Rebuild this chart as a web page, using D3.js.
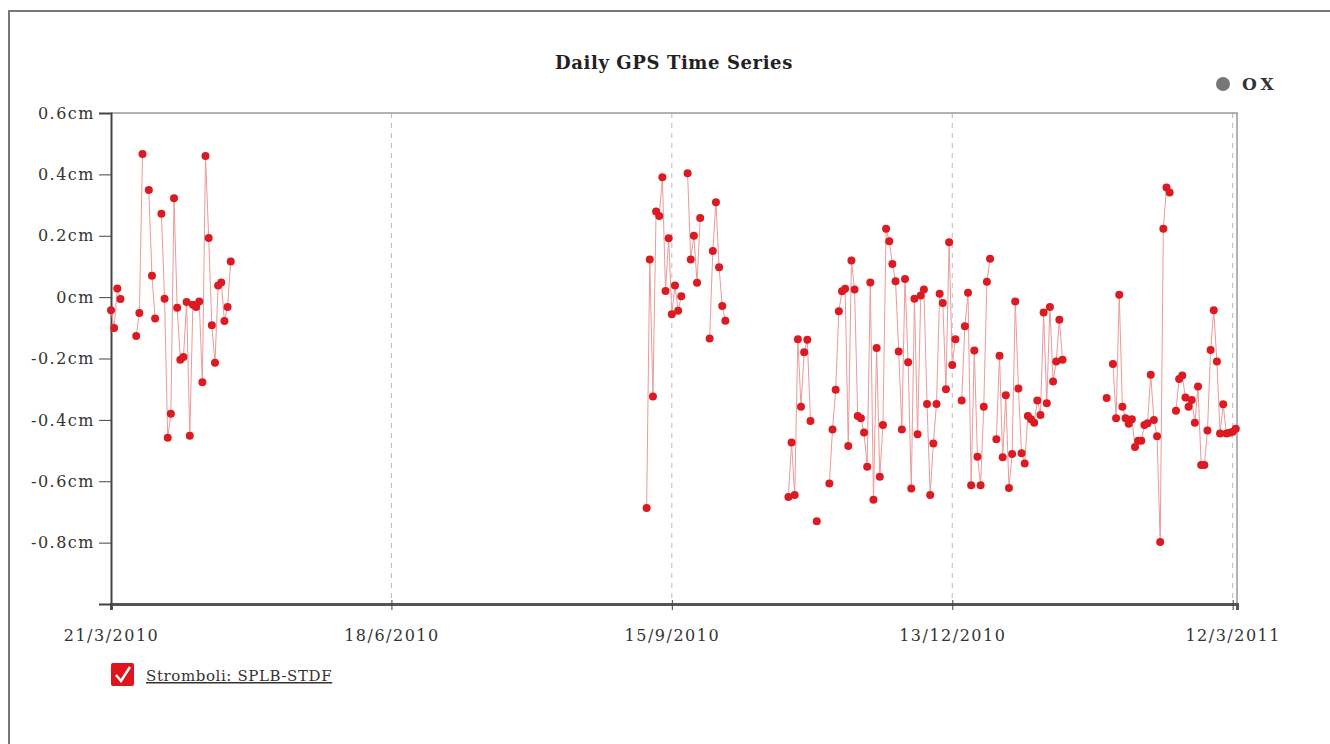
<!DOCTYPE html>
<html>
<head>
<meta charset="utf-8">
<script src="https://cdn.jsdelivr.net/npm/d3@7"></script>
<style>
  body { margin: 0; background: #fff; }
  svg text { font-family: "DejaVu Serif", "Liberation Serif", serif; fill: #333; }
</style>
</head>
<body>
<svg id="chart" width="1330" height="744"></svg>
<script>
// Daily GPS displacement, Stromboli SPLB-STDF (cm)
var dates = [
  "2010-03-21","2010-03-22","2010-03-23","2010-03-24",
  "2010-03-29","2010-03-30","2010-03-31",
  "2010-04-02","2010-04-03","2010-04-04",
  "2010-04-06","2010-04-07","2010-04-08","2010-04-09","2010-04-10","2010-04-11","2010-04-12","2010-04-13",
  "2010-04-14","2010-04-15","2010-04-16","2010-04-17","2010-04-18","2010-04-19","2010-04-20","2010-04-21",
  "2010-04-22","2010-04-23","2010-04-24","2010-04-25","2010-04-26","2010-04-27","2010-04-28",
  "2010-09-07","2010-09-08","2010-09-09","2010-09-10","2010-09-11","2010-09-12","2010-09-13","2010-09-14",
  "2010-09-15","2010-09-16","2010-09-17","2010-09-18",
  "2010-09-20","2010-09-21","2010-09-22","2010-09-23","2010-09-24",
  "2010-09-27","2010-09-28","2010-09-29","2010-09-30","2010-10-01","2010-10-02",
  "2010-10-22","2010-10-23","2010-10-24","2010-10-25","2010-10-26","2010-10-27","2010-10-28","2010-10-29",
  "2010-10-31",
  "2010-11-04","2010-11-05","2010-11-06","2010-11-07","2010-11-08","2010-11-09","2010-11-10","2010-11-11",
  "2010-11-12","2010-11-13","2010-11-14","2010-11-15","2010-11-16","2010-11-17","2010-11-18","2010-11-19",
  "2010-11-20","2010-11-21","2010-11-22","2010-11-23","2010-11-24","2010-11-25","2010-11-26","2010-11-27",
  "2010-11-28","2010-11-29","2010-11-30","2010-12-01","2010-12-02","2010-12-03","2010-12-04","2010-12-05",
  "2010-12-06","2010-12-07","2010-12-08","2010-12-09","2010-12-10","2010-12-11","2010-12-12","2010-12-13",
  "2010-12-14",
  "2010-12-16","2010-12-17","2010-12-18","2010-12-19","2010-12-20","2010-12-21","2010-12-22","2010-12-23",
  "2010-12-24","2010-12-25",
  "2010-12-27","2010-12-28","2010-12-29","2010-12-30","2010-12-31","2011-01-01","2011-01-02","2011-01-03",
  "2011-01-04","2011-01-05","2011-01-06","2011-01-07","2011-01-08","2011-01-09","2011-01-10","2011-01-11",
  "2011-01-12","2011-01-13","2011-01-14","2011-01-15","2011-01-16","2011-01-17",
  "2011-01-31",
  "2011-02-02","2011-02-03","2011-02-04","2011-02-05","2011-02-06","2011-02-07","2011-02-08","2011-02-09",
  "2011-02-10","2011-02-11","2011-02-12","2011-02-13","2011-02-14","2011-02-15","2011-02-16","2011-02-17",
  "2011-02-18","2011-02-19","2011-02-20",
  "2011-02-22","2011-02-23","2011-02-24","2011-02-25","2011-02-26","2011-02-27","2011-02-28","2011-03-01",
  "2011-03-02","2011-03-03","2011-03-04","2011-03-05","2011-03-06","2011-03-07","2011-03-08","2011-03-09",
  "2011-03-10","2011-03-11","2011-03-12","2011-03-13"
];

var values = [
  -0.043,-0.101,0.028,-0.006,
  -0.127,-0.052,0.466,
  0.349,0.070,-0.070,
  0.272,-0.005,-0.458,-0.380,0.322,-0.035,-0.204,-0.195,
  -0.016,-0.452,-0.025,-0.032,-0.014,-0.277,0.460,0.193,
  -0.092,-0.214,0.038,0.048,-0.078,-0.032,0.116,
  -0.687,0.123,-0.324,0.279,0.264,0.391,0.020,0.192,
  -0.056,0.038,-0.044,0.003,
  0.404,0.123,0.200,0.047,0.258,
  -0.135,0.150,0.309,0.097,-0.029,-0.077,
  -0.651,-0.474,-0.645,-0.137,-0.357,-0.180,-0.139,-0.404,
  -0.730,
  -0.607,-0.431,-0.302,-0.046,0.019,0.027,-0.485,0.119,
  0.025,-0.387,-0.395,-0.441,-0.553,0.048,-0.660,-0.166,
  -0.585,-0.417,0.223,0.182,0.108,0.052,-0.177,-0.431,
  0.059,-0.212,-0.624,-0.005,-0.447,0.005,0.025,-0.348,
  -0.645,-0.477,-0.348,0.011,-0.019,-0.300,0.179,-0.221,
  -0.137,
  -0.337,-0.095,0.014,-0.613,-0.174,-0.520,-0.613,-0.357,
  0.050,0.125,
  -0.463,-0.191,-0.522,-0.320,-0.622,-0.511,-0.014,-0.298,
  -0.509,-0.542,-0.387,-0.398,-0.409,-0.337,-0.384,-0.050,
  -0.346,-0.032,-0.275,-0.210,-0.074,-0.204,
  -0.329,
  -0.218,-0.395,0.008,-0.357,-0.395,-0.413,-0.398,-0.488,
  -0.468,-0.468,-0.417,-0.411,-0.253,-0.400,-0.453,-0.798,
  0.223,0.357,0.341,
  -0.370,-0.267,-0.255,-0.327,-0.357,-0.335,-0.409,-0.291,
  -0.547,-0.547,-0.435,-0.172,-0.043,-0.210,-0.444,-0.349,
  -0.444,-0.442,-0.439,-0.429
];

var xTickLabels = ["21/3/2010", "18/6/2010", "15/9/2010", "13/12/2010", "12/3/2011"];
var yTicks = [0.6, 0.4, 0.2, 0, -0.2, -0.4, -0.6, -0.8];
var seriesName = "Stromboli: SPLB-STDF";

var parseDay = d3.timeParse("%Y-%m-%d");
var parseTick = d3.timeParse("%d/%m/%Y");

var data = dates.map(function(d, i) { return { date: parseDay(d), value: values[i] }; });

// split into runs of consecutive days (missing days break the line)
var runs = [];
data.forEach(function(d, i) {
  if (i === 0 || d3.timeDay.count(data[i - 1].date, d.date) > 1) runs.push([]);
  runs[runs.length - 1].push(d);
});

var margin = { top: 113, right: 93, bottom: 140, left: 111 };
var width = 1330 - margin.left - margin.right;
var height = 744 - margin.top - margin.bottom;

var svg = d3.select("#chart");

// outer frame
svg.append("path")
  .attr("d", "M9,744V11H1330")
  .attr("fill", "none")
  .attr("stroke", "#777")
  .attr("stroke-width", 2);

// title
svg.append("text")
  .attr("x", 674)
  .attr("y", 69)
  .attr("text-anchor", "middle")
  .style("font-size", "18px")
  .style("font-weight", "bold")
  .style("letter-spacing", "0.6px")
  .style("fill", "#222")
  .text("Daily GPS Time Series");

// "@ OX" mark
svg.append("circle")
  .attr("cx", 1223)
  .attr("cy", 84)
  .attr("r", 7)
  .attr("fill", "#777");
svg.append("text")
  .attr("x", 1242)
  .attr("y", 90)
  .style("font-size", "17px")
  .style("font-weight", "bold")
  .style("letter-spacing", "4px")
  .style("fill", "#333")
  .text("OX");

var g = svg.append("g")
  .attr("transform", "translate(" + margin.left + "," + margin.top + ")");

// scales
var xScale = d3.scaleTime()
  .domain([parseTick(xTickLabels[0]), new Date(2011, 2, 13, 9)])
  .range([0, width]);

var yScale = d3.scaleLinear()
  .domain([-1.0, 0.6])
  .range([height, 0]);

var xTickDates = xTickLabels.map(parseTick);

// dashed vertical grid lines
g.selectAll(".grid")
  .data(xTickDates.slice(1))
  .enter().append("line")
  .attr("class", "grid")
  .attr("x1", function(d) { return xScale(d); })
  .attr("x2", function(d) { return xScale(d); })
  .attr("y1", 0)
  .attr("y2", height)
  .attr("stroke", "#bbb")
  .attr("stroke-dasharray", "5,5");

// top and right border
g.append("path")
  .attr("d", "M0,0H" + width + "V" + height)
  .attr("fill", "none")
  .attr("stroke", "#999")
  .attr("stroke-width", 1.5);

// axes
var xAxis = d3.axisBottom(xScale)
  .tickValues(xTickDates)
  .tickSize(6)
  .tickPadding(20)
  .tickFormat(function(d, i) { return xTickLabels[i]; });

var yAxis = d3.axisLeft(yScale)
  .tickValues(yTicks)
  .tickSize(12)
  .tickPadding(4)
  .tickFormat(function(d) { return d + "cm"; });

var gx = g.append("g")
  .attr("transform", "translate(0," + height + ")")
  .call(xAxis);
gx.select(".domain").attr("stroke", "#555").attr("stroke-width", 3);
gx.selectAll(".tick line").attr("stroke", "#444").attr("y1", -4);
gx.selectAll("text")
  .style("font-size", "16px")
  .style("letter-spacing", "1.5px")
  .style("font-family", "DejaVu Serif, serif")
  .attr("fill", "#333");

var gy = g.append("g").call(yAxis);
gy.select(".domain").attr("stroke", "#444").attr("stroke-width", 2);
gy.selectAll(".tick line").attr("stroke", "#444");
gy.selectAll("text")
  .style("font-size", "16px")
  .style("letter-spacing", "1.5px")
  .style("font-family", "DejaVu Serif, serif")
  .attr("fill", "#333");

// line (broken at missing days)
var line = d3.line()
  .x(function(d) { return xScale(d.date); })
  .y(function(d) { return yScale(d.value); });

g.selectAll(".run")
  .data(runs)
  .enter().append("path")
  .attr("class", "run")
  .attr("d", line)
  .attr("fill", "none")
  .attr("stroke", "#eb9a9a")
  .attr("stroke-width", 1);

// points
g.selectAll(".dot")
  .data(data)
  .enter().append("circle")
  .attr("class", "dot")
  .attr("cx", function(d) { return xScale(d.date); })
  .attr("cy", function(d) { return yScale(d.value); })
  .attr("r", 4)
  .attr("fill", "#dc1a22");

// legend
var legend = svg.append("g").attr("transform", "translate(111,663)");
legend.append("rect")
  .attr("width", 23)
  .attr("height", 23)
  .attr("rx", 2)
  .attr("fill", "#e0141c");
legend.append("path")
  .attr("d", "M5,12 L10,18 L19,4")
  .attr("fill", "none")
  .attr("stroke", "#fff")
  .attr("stroke-width", 2.5);
legend.append("text")
  .attr("x", 35)
  .attr("y", 18)
  .style("font-size", "15px")
  .style("letter-spacing", "0.6px")
  .style("text-decoration", "underline")
  .style("fill", "#333")
  .text(seriesName);
</script>
</body>
</html>
